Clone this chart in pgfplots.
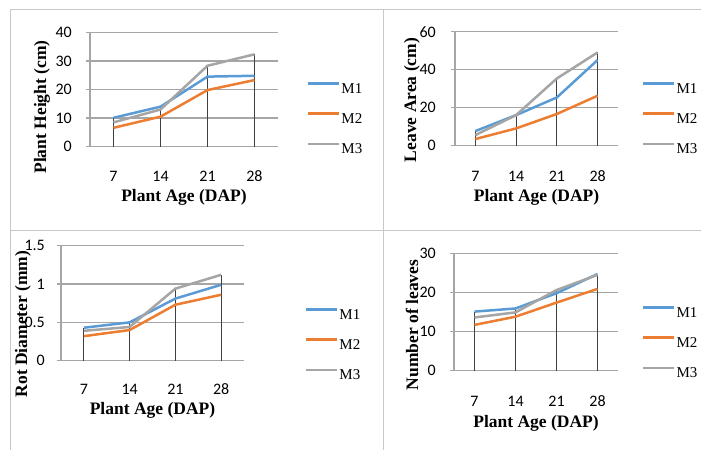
\documentclass[border=0pt]{standalone}
\usepackage{pgfplots}
\pgfplotsset{compat=1.18}
\usepackage{fontspec}
\setmainfont{Liberation Serif}
\newfontfamily\calibri{Carlito}

\definecolor{mone}{HTML}{5B9BD5}
\definecolor{mtwo}{HTML}{ED7D31}
\definecolor{mthree}{HTML}{A5A5A5}
\definecolor{gridc}{HTML}{A6A6A6}
\definecolor{dropc}{HTML}{404040}
\definecolor{framec}{HTML}{C8C8C8}

% ylabel is rotated 90: its xshift moves it up, its yshift moves it left
\pgfplotsset{
  panel/.style={
    scale only axis,
    anchor=south west,
    xmin=0.5, xmax=4.5,
    ymin=0,
    xtick={1,2,3,4},
    xticklabels={7,14,21,28},
    axis x line*=bottom,
    axis y line*=left,
    axis line style={draw=gridc, line width=1.3pt},
    ymajorgrids,
    major grid style={draw=gridc, line width=1.3pt},
    xtick style={draw=none},
    ytick style={draw=gridc, line width=1.3pt},
    tick align=outside,
    major tick length=4pt,
    /pgf/number format/assume math mode=true,
    tick label style={font=\calibri\fontsize{16}{16}\selectfont, inner sep=0pt},
    xticklabel style={anchor=center},
    yticklabel style={anchor=east},
    label style={font=\bfseries\fontsize{17.5}{17.5}\selectfont, inner sep=0pt},
    xlabel style={at={(axis description cs:0.5,0)}, anchor=center},
    ylabel style={at={(axis description cs:0,0.5)}, anchor=center},
    legend style={draw=none, fill=none, inner sep=0pt, outer sep=0pt,
      anchor=west, at={(axis description cs:1,0.5)},
      font=\fontsize{15}{15}\selectfont,
      row sep=19pt, column sep=1pt,
      nodes={inner sep=0pt, text height=10pt, text depth=0pt}},
    legend cell align=left,
    legend image code/.code={\draw[##1] (0pt,5pt) -- (31pt,5pt);},
    clip=false,
  },
  sone/.style={mone, line width=2.5pt},
  stwo/.style={mtwo, line width=2.5pt},
  sthree/.style={mthree, line width=2.5pt},
  drop/.style={dropc, line width=1.2pt, ycomb, forget plot},
}

\begin{document}
\begin{tikzpicture}
\path[use as bounding box] (0pt,0pt) rectangle (701pt,450pt);

% panel frames
\draw[framec, line width=1pt] (10pt,440pt) -- (701pt,440pt);
\draw[framec, line width=1pt] (10pt,440pt) -- (10pt,0pt);
\draw[framec, line width=1pt] (383pt,440pt) -- (383pt,0pt);
\draw[framec, line width=1pt] (10pt,219pt) -- (701pt,219pt);

% Plant height
\begin{axis}[panel, at={(90pt,303.3pt)}, width=188pt, height=114.4pt,
  ymax=40, ytick={0,10,20,30,40},
  xticklabel style={yshift=-25.3pt},
  yticklabel style={xshift=-14pt},
  xlabel={Plant Age (DAP)}, xlabel style={yshift=-50.3pt},
  ylabel={Plant Height (cm)}, ylabel style={yshift=48pt, xshift=-17.5pt},
  legend style={xshift=29pt, yshift=-28.5pt}]
  \addplot[drop] coordinates {(1,10.1) (2,14.0) (3,28.3) (4,32.3)};
  \addplot[sone] coordinates {(1,10.1) (2,14.0) (3,24.5) (4,24.8)};
  \addplot[stwo] coordinates {(1,6.6) (2,10.5) (3,19.8) (4,23.3)};
  \addplot[sthree] coordinates {(1,8.5) (2,13.0) (3,28.3) (4,32.3)};
  \legend{M1,M2,M3}
\end{axis}

% Leave area
\begin{axis}[panel, at={(455pt,304.3pt)}, width=163pt, height=114pt,
  ymax=60, ytick={0,20,40,60},
  xticklabel style={yshift=-26.3pt},
  yticklabel style={xshift=-15pt},
  xlabel={Plant Age (DAP)}, xlabel style={yshift=-51.3pt},
  ylabel={Leave Area (cm)}, ylabel style={yshift=43pt, xshift=-11.3pt},
  legend style={xshift=24pt, yshift=-29.3pt}]
  \addplot[drop] coordinates {(1,7.7) (2,16.1) (3,35.4) (4,49.1)};
  \addplot[sone] coordinates {(1,7.7) (2,16.1) (3,25.4) (4,45.1)};
  \addplot[stwo] coordinates {(1,3.5) (2,9.1) (3,16.7) (4,26.3)};
  \addplot[sthree] coordinates {(1,5.6) (2,16.1) (3,35.4) (4,49.1)};
  \legend{M1,M2,M3}
\end{axis}

% Rot diameter
\begin{axis}[panel, at={(61pt,89.3pt)}, width=183pt, height=115pt,
  ymax=1.5, ytick={0,0.5,1,1.5},
  xticklabel style={yshift=-24.3pt},
  yticklabel style={xshift=-12pt},
  xlabel={Plant Age (DAP)}, xlabel style={yshift=-49.3pt},
  ylabel={Rot Diameter (mm)}, ylabel style={yshift=38pt, xshift=-20.8pt},
  legend style={xshift=61pt, yshift=-40.8pt}]
  \addplot[drop] coordinates {(1,0.43) (2,0.50) (3,0.94) (4,1.12)};
  \addplot[sone] coordinates {(1,0.43) (2,0.50) (3,0.81) (4,0.99)};
  \addplot[stwo] coordinates {(1,0.32) (2,0.40) (3,0.73) (4,0.86)};
  \addplot[sthree] coordinates {(1,0.39) (2,0.44) (3,0.94) (4,1.12)};
  \legend{M1,M2,M3}
\end{axis}

% Number of leaves
\begin{axis}[panel, at={(454pt,79.3pt)}, width=164pt, height=117.4pt,
  ymax=30, ytick={0,10,20,30},
  xticklabel style={yshift=-26.3pt},
  yticklabel style={xshift=-14pt},
  xlabel={Plant Age (DAP)}, xlabel style={yshift=-52.3pt},
  ylabel={Number of leaves}, ylabel style={yshift=42pt, xshift=-13pt},
  legend style={xshift=24pt, yshift=-30pt}]
  \addplot[drop] coordinates {(1,15.1) (2,15.9) (3,20.6) (4,24.7)};
  \addplot[sone] coordinates {(1,15.1) (2,15.9) (3,19.8) (4,24.7)};
  \addplot[stwo] coordinates {(1,11.7) (2,13.8) (3,17.4) (4,20.9)};
  \addplot[sthree] coordinates {(1,13.6) (2,14.9) (3,20.6) (4,24.5)};
  \legend{M1,M2,M3}
\end{axis}
\end{tikzpicture}
\end{document}
